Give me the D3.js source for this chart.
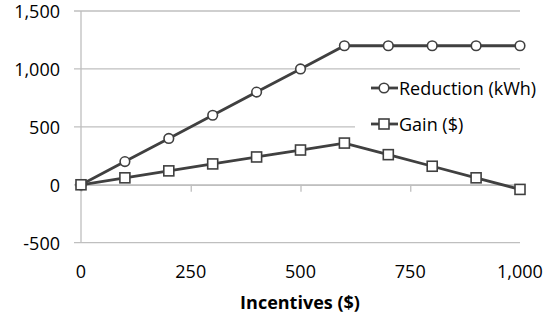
<!DOCTYPE html>
<html><head><meta charset="utf-8">
<script src="https://cdn.jsdelivr.net/npm/d3@7"></script>
<style>body{margin:0;background:#fff}svg{display:block}text{font-family:"Open Sans",sans-serif;fill:#000}</style>
</head><body><svg id="c" width="546" height="324"></svg>
<script>
const incentives = [0,100,200,300,400,500,600,700,800,900,1000];
const reduction = [0,200,400,600,800,1000,1200,1200,1200,1200,1200];
const gain = [0,60,120,180,240,300,360,260,160,60,-40];
const xTicks = [0,250,500,750,1000];
const yTicks = [-500,0,500,1000,1500];
const seriesNames = ["Reduction (kWh)","Gain ($)"];
const xTitle = "Incentives ($)";

const svg = d3.select("#c");
const x = d3.scaleLinear().domain([0,1000]).range([81,520]);
const y = d3.scaleLinear().domain([-500,1500]).range([242.7,11]);
const fmt = d => d3.format(",")(d).replace("\u2212","-");
const lineCol = "#404040", gridCol = "#bfbfbf";

// gridlines
svg.append("g").selectAll("line").data(yTicks).join("line")
  .attr("x1",74).attr("x2",520).attr("y1",d=>y(d)).attr("y2",d=>y(d))
  .attr("stroke",gridCol).attr("stroke-width",1.3);
// y axis line
svg.append("line").attr("x1",81).attr("x2",81).attr("y1",y(1500)).attr("y2",y(-500))
  .attr("stroke",gridCol).attr("stroke-width",1.3);
// x axis line at 0 with ticks
const xa = svg.append("g").attr("transform",`translate(0,${y(0)})`)
  .call(d3.axisBottom(x).tickValues(xTicks).tickSize(7).tickFormat(""));
xa.select(".domain").attr("stroke",gridCol).attr("stroke-width",1.3);
xa.selectAll(".tick line").attr("stroke",gridCol).attr("stroke-width",1.3);

// y labels
svg.append("g").selectAll("text").data(yTicks).join("text")
  .attr("x",60).attr("y",d=>y(d)+6.8).attr("text-anchor","end")
  .attr("font-size",18).text(d=>fmt(d));
// x labels
svg.append("g").selectAll("text").data(xTicks).join("text")
  .attr("x",d=>x(d)).attr("y",278).attr("text-anchor","middle")
  .attr("font-size",18).text(d=>fmt(d));
svg.append("text").attr("x",300).attr("y",309).attr("text-anchor","middle")
  .attr("font-size",18).attr("font-weight","bold").text(xTitle);

// legend background
svg.append("rect").attr("x",355).attr("y",75).attr("width",191).attr("height",62).attr("fill","#fff");

const line = d3.line().x((d,i)=>x(incentives[i])).y(d=>y(d));
[reduction,gain].forEach((s,k)=>{
  svg.append("path").datum(s).attr("d",line).attr("fill","none")
    .attr("stroke",lineCol).attr("stroke-width",2.8);
  const g = svg.append("g");
  if(k===0){
    g.selectAll("circle").data(s).join("circle")
      .attr("cx",(d,i)=>x(incentives[i])).attr("cy",d=>y(d)).attr("r",4.8)
      .attr("fill","#fff").attr("stroke",lineCol).attr("stroke-width",1.6);
  } else {
    g.selectAll("rect").data(s).join("rect")
      .attr("x",(d,i)=>x(incentives[i])-5).attr("y",d=>y(d)-5).attr("width",10).attr("height",10)
      .attr("fill","#fff").attr("stroke",lineCol).attr("stroke-width",1.6);
  }
});

// legend
const ly = [88,124];
seriesNames.forEach((n,k)=>{
  svg.append("line").attr("x1",371).attr("x2",398).attr("y1",ly[k]).attr("y2",ly[k])
    .attr("stroke",lineCol).attr("stroke-width",2.8);
  if(k===0) svg.append("circle").attr("cx",384).attr("cy",ly[k]).attr("r",4.8)
    .attr("fill","#fff").attr("stroke",lineCol).attr("stroke-width",1.6);
  else svg.append("rect").attr("x",379).attr("y",ly[k]-5).attr("width",10).attr("height",10)
    .attr("fill","#fff").attr("stroke",lineCol).attr("stroke-width",1.6);
  svg.append("text").attr("x",399).attr("y",ly[k]+6.5)
    .attr("font-size",18).text(n);
});
</script></body></html>
